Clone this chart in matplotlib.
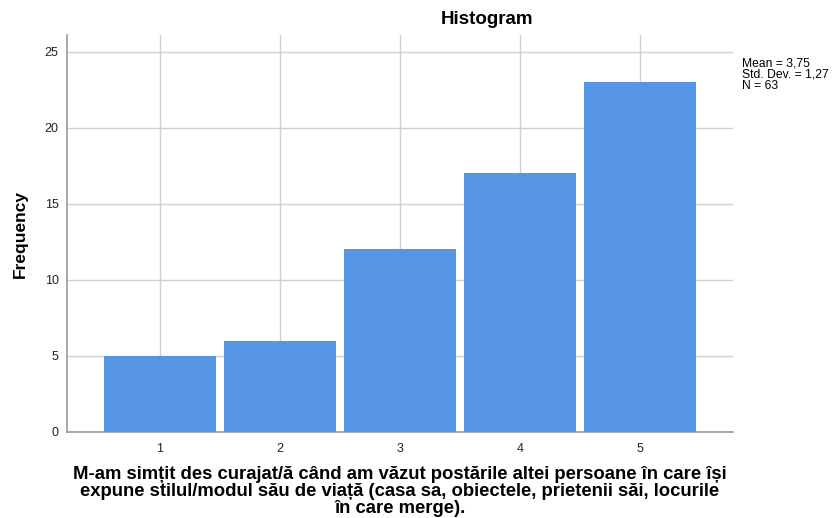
import matplotlib.pyplot as plt

# date citite din histograma
valori = [1, 2, 3, 4, 5]
frecvente = [5, 6, 12, 17, 23]
y_ticks = [0, 5, 10, 15, 20, 25]

titlu = "Histogram"
eticheta_x = ("M-am simțit des curajat/ă când am văzut postările altei persoane în care își\n"
              "expune stilul/modul său de viață (casa sa, obiectele, prietenii săi, locurile\n"
              "în care merge).")
statistici = "Mean = 3,75\nStd. Dev. = 1,27\nN = 63"

plt.rcParams['font.family'] = ['Liberation Sans', 'DejaVu Sans']

fig = plt.figure(figsize=(8.33, 5.18), dpi=100)
ax = fig.add_axes([67 / 833, 1 - 432 / 518, (733 - 67) / 833, (432 - 35) / 518])

ax.bar(valori, frecvente, width=0.94, color="#5595e3", zorder=3)

ax.set_xlim(0.225, 5.775)
ax.set_ylim(0, 26.1)
ax.set_xticks(valori)
ax.set_yticks(y_ticks)
ax.grid(True, color="#d0d0d0", linewidth=1, zorder=0)
ax.tick_params(length=0, labelsize=9, colors="#222222", pad=6)
ax.tick_params(axis='x', pad=8)

for s in ["top", "right"]:
    ax.spines[s].set_visible(False)
ax.spines["left"].set_color("#999999")
ax.spines["bottom"].set_color("#999999")
ax.spines["left"].set_linewidth(1.2)
ax.spines["bottom"].set_linewidth(1.2)

ax.set_ylabel("Frequency", fontsize=12.5, fontweight="bold", labelpad=12)
ax.set_xlabel(eticheta_x, fontsize=13.3, fontweight="bold", labelpad=8, linespacing=0.98)

fig.text(487 / 833, 1 - 20 / 518, titlu, fontsize=13.5, fontweight="bold", ha="center", va="center")
fig.text(742 / 833, 1 - 57 / 518, statistici, fontsize=8.7, ha="left", va="top", linespacing=0.95)

fig.savefig("out.png", dpi=100)
